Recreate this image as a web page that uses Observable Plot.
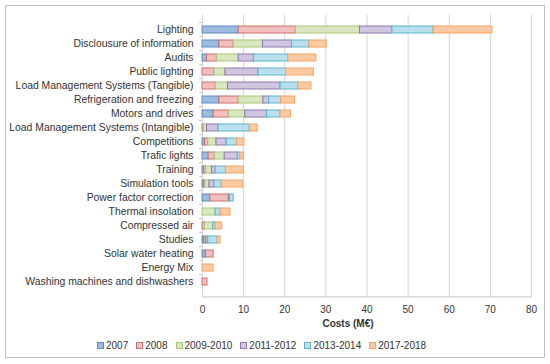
<!DOCTYPE html>
<html>
<head>
<meta charset="utf-8">
<script src="https://cdn.jsdelivr.net/npm/d3@7"></script>
<script src="https://cdn.jsdelivr.net/npm/@observablehq/plot@0.6"></script>
<style>
  body { margin: 0; background: #fff; font-family: "Liberation Sans", Arial, sans-serif; }
  #frame { position: absolute; left: 5px; top: 5px; width: 540px; height: 353px; box-sizing: border-box; border: 1px solid #c0c0c0; }
  #chart { position: absolute; left: 0; top: 0; }
  #chart g[aria-label="y-axis tick label"] text { font-size: 10.4px; }
  #xtitle { position: absolute; left: 298px; width: 100px; top: 318px; text-align: center; font-weight: bold; font-size: 10px; color: #333; }
  #legend { position: absolute; left: 97px; top: 340px; display: flex; gap: 8px; font-size: 10px; color: #333; align-items: center; }
  .item { display: flex; align-items: center; gap: 2px; }
  .sw { width: 5px; height: 5px; border: 1px solid; display: inline-block; }
</style>
</head>
<body>
<div id="frame"></div>
<div id="chart"></div>
<div id="xtitle">Costs (M€)</div>
<div id="legend"></div>
<script>
const categories = ["Lighting","Disclousure of information","Audits","Public lighting","Load Management Systems (Tangible)","Refrigeration and freezing","Motors and drives","Load Management Systems (Intangible)","Competitions","Trafic lights","Training","Simulation tools","Power factor correction","Thermal insolation","Compressed air","Studies","Solar water heating","Energy Mix","Washing machines and dishwashers"];
const seriesNames = ["2007","2008","2009-2010","2011-2012","2013-2014","2017-2018"];
const v2007 = [8.8, 4.1, 1.1, 0, 0, 4.1, 2.7, 0, 0.6, 1.5, 0.4, 0.3, 1.9, 0, 0, 0.4, 0.8, 0, 0];
const v2008 = [13.9, 3.5, 2.4, 2.9, 3.2, 4.7, 3.7, 0.3, 0.8, 1.5, 0.5, 0.4, 4.3, 0, 0.6, 0.2, 1.9, 0, 1.2];
const v2009 = [15.6, 7.1, 5.3, 2.7, 3.0, 6.0, 4.0, 0.8, 2.0, 2.4, 1.4, 1.0, 0.3, 3.2, 2.0, 0.3, 0, 0, 0];
const v2011 = [7.9, 7.1, 3.7, 8.0, 12.8, 1.4, 5.3, 2.8, 2.5, 3.2, 0.9, 1.2, 0.2, 0, 0, 0.5, 0, 0, 0];
const v2013 = [10.0, 4.2, 8.4, 6.7, 4.3, 2.9, 3.3, 7.6, 2.5, 0.6, 2.5, 1.8, 0.9, 1.2, 0.6, 2.3, 0, 0, 0];
const v2017 = [14.3, 4.2, 6.8, 6.8, 3.2, 3.4, 2.5, 1.9, 1.8, 0.9, 4.3, 5.2, 0, 2.4, 1.6, 0.7, 0, 2.7, 0];
const xTicks = [0, 10, 20, 30, 40, 50, 60, 70, 80];

const fills = ["#9dbbe0", "#f3bfbf", "#d9e7c1", "#d0c6e0", "#b9e0ec", "#fbcaa3"];
const strokes = ["#5f8bc4", "#cd6f6c", "#a9c676", "#8f78b0", "#5ab6cf", "#f5a262"];

const allSeries = [v2007, v2008, v2009, v2011, v2013, v2017];
const data = [];
allSeries.forEach((arr, s) => arr.forEach((v, i) => {
  if (v > 0) data.push({category: categories[i], series: seriesNames[s], value: v});
}));

const step = 14.83;
const chart = Plot.plot({
  width: 550,
  height: 318,
  marginLeft: 202,
  marginRight: 19,
  marginTop: 14.6,
  marginBottom: 318 - 296.4,
  style: { fontFamily: "Liberation Sans, Arial, sans-serif", fontSize: "10px", color: "#333", background: "transparent" },
  x: { domain: [0, 80], ticks: xTicks },
  y: { domain: categories, paddingInner: 0.52, paddingOuter: 0.26 },
  color: { domain: seriesNames, range: fills },
  marks: [
    Plot.ruleX(xTicks, { stroke: "#d6d6d6", strokeWidth: 1 }),
    Plot.frame({ anchor: "bottom", stroke: "#c8c8c8" }),
    Plot.ruleY(categories, { y: d => d, x1: -0.7, x2: 0, dy: -step / 2, stroke: "#c8c8c8" }),
    Plot.barX(data, Plot.stackX({
      x: "value", y: "category", fill: "series",
      stroke: d => strokes[seriesNames.indexOf(d.series)], strokeWidth: 1,
      order: seriesNames
    })),
    Plot.axisX({ ticks: xTicks, tickSize: 0, tickPadding: 9, label: null, tickFormat: d => d }),
    Plot.axisY({ tickSize: 0, tickPadding: 9, label: null })
  ]
});
document.getElementById("chart").appendChild(chart);

const legend = document.getElementById("legend");
seriesNames.forEach((name, i) => {
  const item = document.createElement("div");
  item.className = "item";
  const sw = document.createElement("span");
  sw.className = "sw";
  sw.style.background = fills[i];
  sw.style.borderColor = strokes[i];
  item.appendChild(sw);
  const t = document.createElement("span");
  t.textContent = name;
  item.appendChild(t);
  legend.appendChild(item);
});
</script>
</body>
</html>
